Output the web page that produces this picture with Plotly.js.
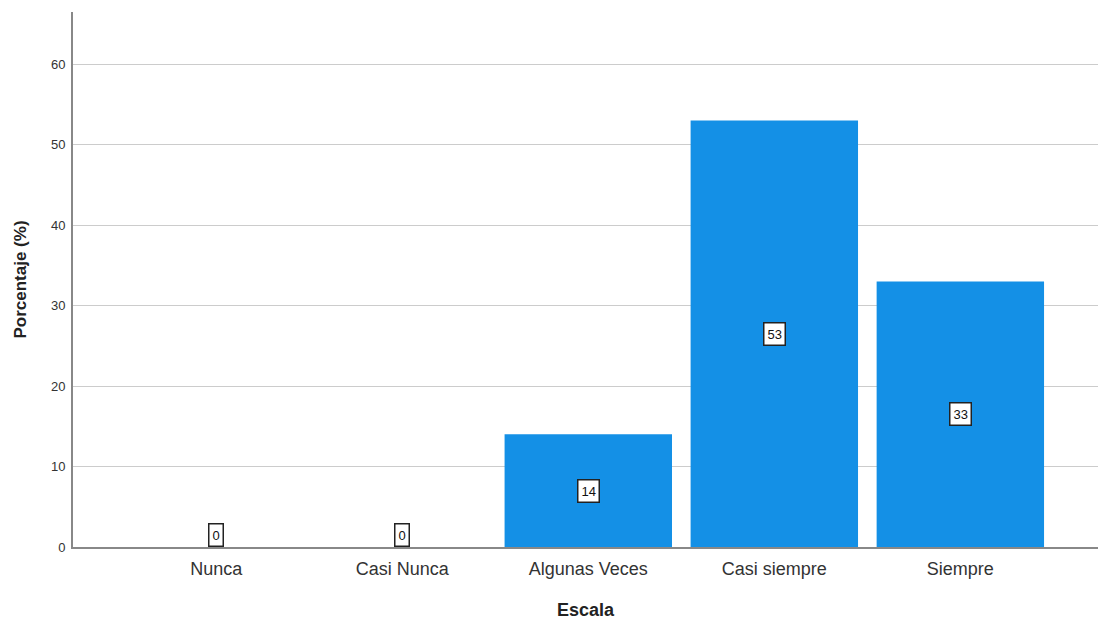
<!DOCTYPE html>
<html>
<head>
<meta charset="utf-8">
<script src="https://cdn.plot.ly/plotly-3.0.1.min.js"></script>
<style>html,body{margin:0;padding:0;background:#fff;}#chart{width:1098px;height:622px;}</style>
</head>
<body>
<div id="chart"></div>
<script>
// Percentage of responses per scale level
const categories = ["Nunca", "Casi Nunca", "Algunas Veces", "Casi siempre", "Siempre"];
const percentages = [0, 0, 14, 53, 33];
const yTicks = [0, 10, 20, 30, 40, 50, 60];

const barColor = "#1490e6";
const font = "Liberation Sans, Arial, sans-serif";

const trace = {
  type: "bar",
  x: categories,
  y: percentages,
  width: 0.9,
  marker: { color: barColor, line: { width: 0 } },
  hoverinfo: "x+y"
};

// Boxed value labels placed at mid-height of each bar (on the baseline for zero)
const labels = categories.map((c, i) => ({
  x: c,
  y: percentages[i] / 2,
  xref: "x",
  yref: "y",
  yanchor: percentages[i] === 0 ? "bottom" : "middle",
  text: String(percentages[i]),
  showarrow: false,
  font: { family: font, size: 13, color: "#111" },
  bgcolor: "#ffffff",
  bordercolor: "#222",
  borderwidth: 1.5,
  borderpad: 3
}));

const layout = {
  width: 1098,
  height: 622,
  margin: { l: 73, r: 0, t: 12, b: 75 },
  paper_bgcolor: "#ffffff",
  plot_bgcolor: "#ffffff",
  showlegend: false,
  bargap: 0.1,
  xaxis: {
    type: "category",
    range: [-0.77, 4.74],
    showgrid: false,
    showline: true,
    linecolor: "#888",
    linewidth: 2,
    ticks: "",
    ticklabelstandoff: 4,
    tickfont: { family: font, size: 18, color: "#333" },
    title: { text: "<b>Escala</b>", font: { family: font, size: 18, color: "#222" }, standoff: 26 },
    fixedrange: true
  },
  yaxis: {
    range: [0, 66.5],
    tickvals: yTicks,
    showgrid: true,
    gridcolor: "#cccccc",
    gridwidth: 1,
    zeroline: false,
    showline: true,
    linecolor: "#888",
    linewidth: 2,
    ticks: "",
    ticklen: 0,
    ticklabelstandoff: 3,
    tickfont: { family: font, size: 13, color: "#333" },
    title: { text: "<b>Porcentaje (%)</b>", font: { family: font, size: 17, color: "#222" }, standoff: 20 },
    fixedrange: true
  },
  annotations: labels
};

Plotly.newPlot("chart", [trace], layout, { displayModeBar: false, staticPlot: true });
</script>
</body>
</html>
